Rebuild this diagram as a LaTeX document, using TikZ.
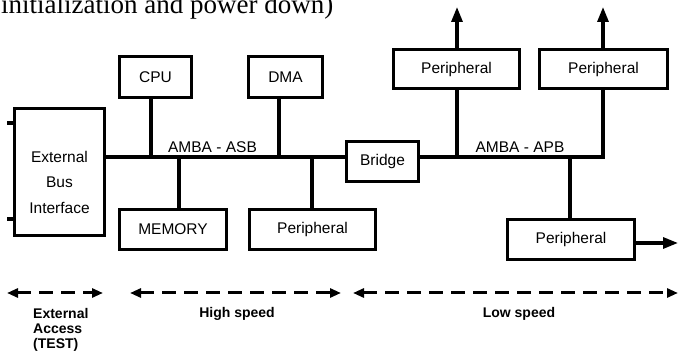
\documentclass[tikz,border=0pt]{standalone}
\usepackage{fontspec}
\setmainfont{Liberation Serif}
\setsansfont{Liberation Sans}
\usetikzlibrary{arrows.meta}

\begin{document}
\begin{tikzpicture}[x=1pt, y=-1pt, font=\sffamily\fontsize{15.5}{18}\selectfont,
  box/.style={draw, line width=3.3pt, inner sep=0pt},
  bus/.style={line width=3.1pt},
  outarrow/.style={line width=3.1pt, -{Triangle[length=15pt,width=11pt]}},
  span/.style={line width=3pt, dash pattern=on 14pt off 8pt,
    {Triangle[length=11pt,width=9pt]}-{Triangle[length=11pt,width=9pt]}},
  legend/.style={font=\sffamily\bfseries\fontsize{14}{15}\selectfont, inner sep=0pt}]
  \useasboundingbox (0,0) rectangle (678,352);
  \clip (0,0) rectangle (678,352);

  % cut-off line of the page text above
  \node[font=\rmfamily\fontsize{27}{30}\selectfont, anchor=base west, inner sep=0pt]
    (pagetext) at (1,14) {initialization and power down)};

  % high speed side
  \node[box, minimum width=90pt, minimum height=127pt] (ebi) at (59.5,172) {};
  \node[align=center, font=\sffamily\fontsize{15.5}{25.5}\selectfont]
    (ebitext) at ([yshift=-10pt]ebi.center) {External\\Bus\\Interface};
  \node[box, minimum width=72pt, minimum height=41pt] (cpu) at (155.5,77) {CPU};
  \node[box, minimum width=74pt, minimum height=41pt] (dma) at (285.5,77) {DMA};
  \node[box, minimum width=107pt, minimum height=40pt] (mem) at (173,229.5) {MEMORY};
  \node[box, minimum width=126pt, minimum height=40pt] (perA) at (312.5,229.5) {Peripheral};
  \node[box, minimum width=72pt, minimum height=40pt] (bridge) at (382.5,161.5) {Bridge};

  % low speed side
  \node[box, minimum width=126pt, minimum height=39pt] (perB) at (456.5,69) {Peripheral};
  \node[box, minimum width=128pt, minimum height=39pt] (perC) at (603.5,69) {Peripheral};
  \node[box, minimum width=127pt, minimum height=40pt] (perD) at (571,239.5) {Peripheral};

  % external pins
  \coordinate (pinT) at (7,123);
  \coordinate (pinB) at (7,219);
  \foreach \p in {pinT,pinB}
    \draw[bus] (\p) -- (\p -| ebi.west);

  % AMBA - ASB
  \coordinate (tcpu) at (151,157);
  \coordinate (tdma) at (279,157);
  \coordinate (tmem) at (179,157);
  \coordinate (tper) at (312,157);
  \draw[bus] (ebi.east |- tcpu) -- (bridge.west |- tcpu);
  \foreach \t/\n in {tcpu/cpu, tdma/dma}
    \draw[bus] (\t) -- (\t |- \n.south);
  \foreach \t/\n in {tmem/mem, tper/perA}
    \draw[bus] (\t) -- (\t |- \n.north);
  \node[anchor=base] (asblabel) at (212.5,153) {AMBA - ASB};

  % AMBA - APB
  \coordinate (tB) at (457,157);
  \coordinate (tC) at (603,157);
  \coordinate (tD) at (570,157);
  \draw[bus] (bridge.east |- tB) -- (tC) -- (tC |- perC.south);
  \draw[bus] (tB) -- (tB |- perB.south);
  \draw[bus] (tD) -- (tD |- perD.north);
  \node[anchor=base] (apblabel) at (520,153) {AMBA - APB};

  % outputs
  \coordinate (upB) at (457,7);
  \coordinate (upC) at (603,7);
  \coordinate (outD) at (678,243);
  \draw[outarrow] (perB.north -| upB) -- (upB);
  \draw[outarrow] (perC.north -| upC) -- (upC);
  \draw[outarrow] (perD.east |- outD) -- (outD);

  % speed ranges
  \foreach \n/\xa/\xb in {ext/7/103, high/130/341, low/353/678} {
    \coordinate (\n L) at (\xa,293);
    \coordinate (\n R) at (\xb,293);
    \draw[span] (\n L) -- (\n R);
  }
  \node[legend, align=left, anchor=north west] (extlabel) at (33,308) {External\\Access\\(TEST)};
  \node[legend, anchor=base] (highlabel) at (237,318) {High speed};
  \node[legend, anchor=base] (lowlabel) at (519,318) {Low speed};
\end{tikzpicture}
\end{document}
